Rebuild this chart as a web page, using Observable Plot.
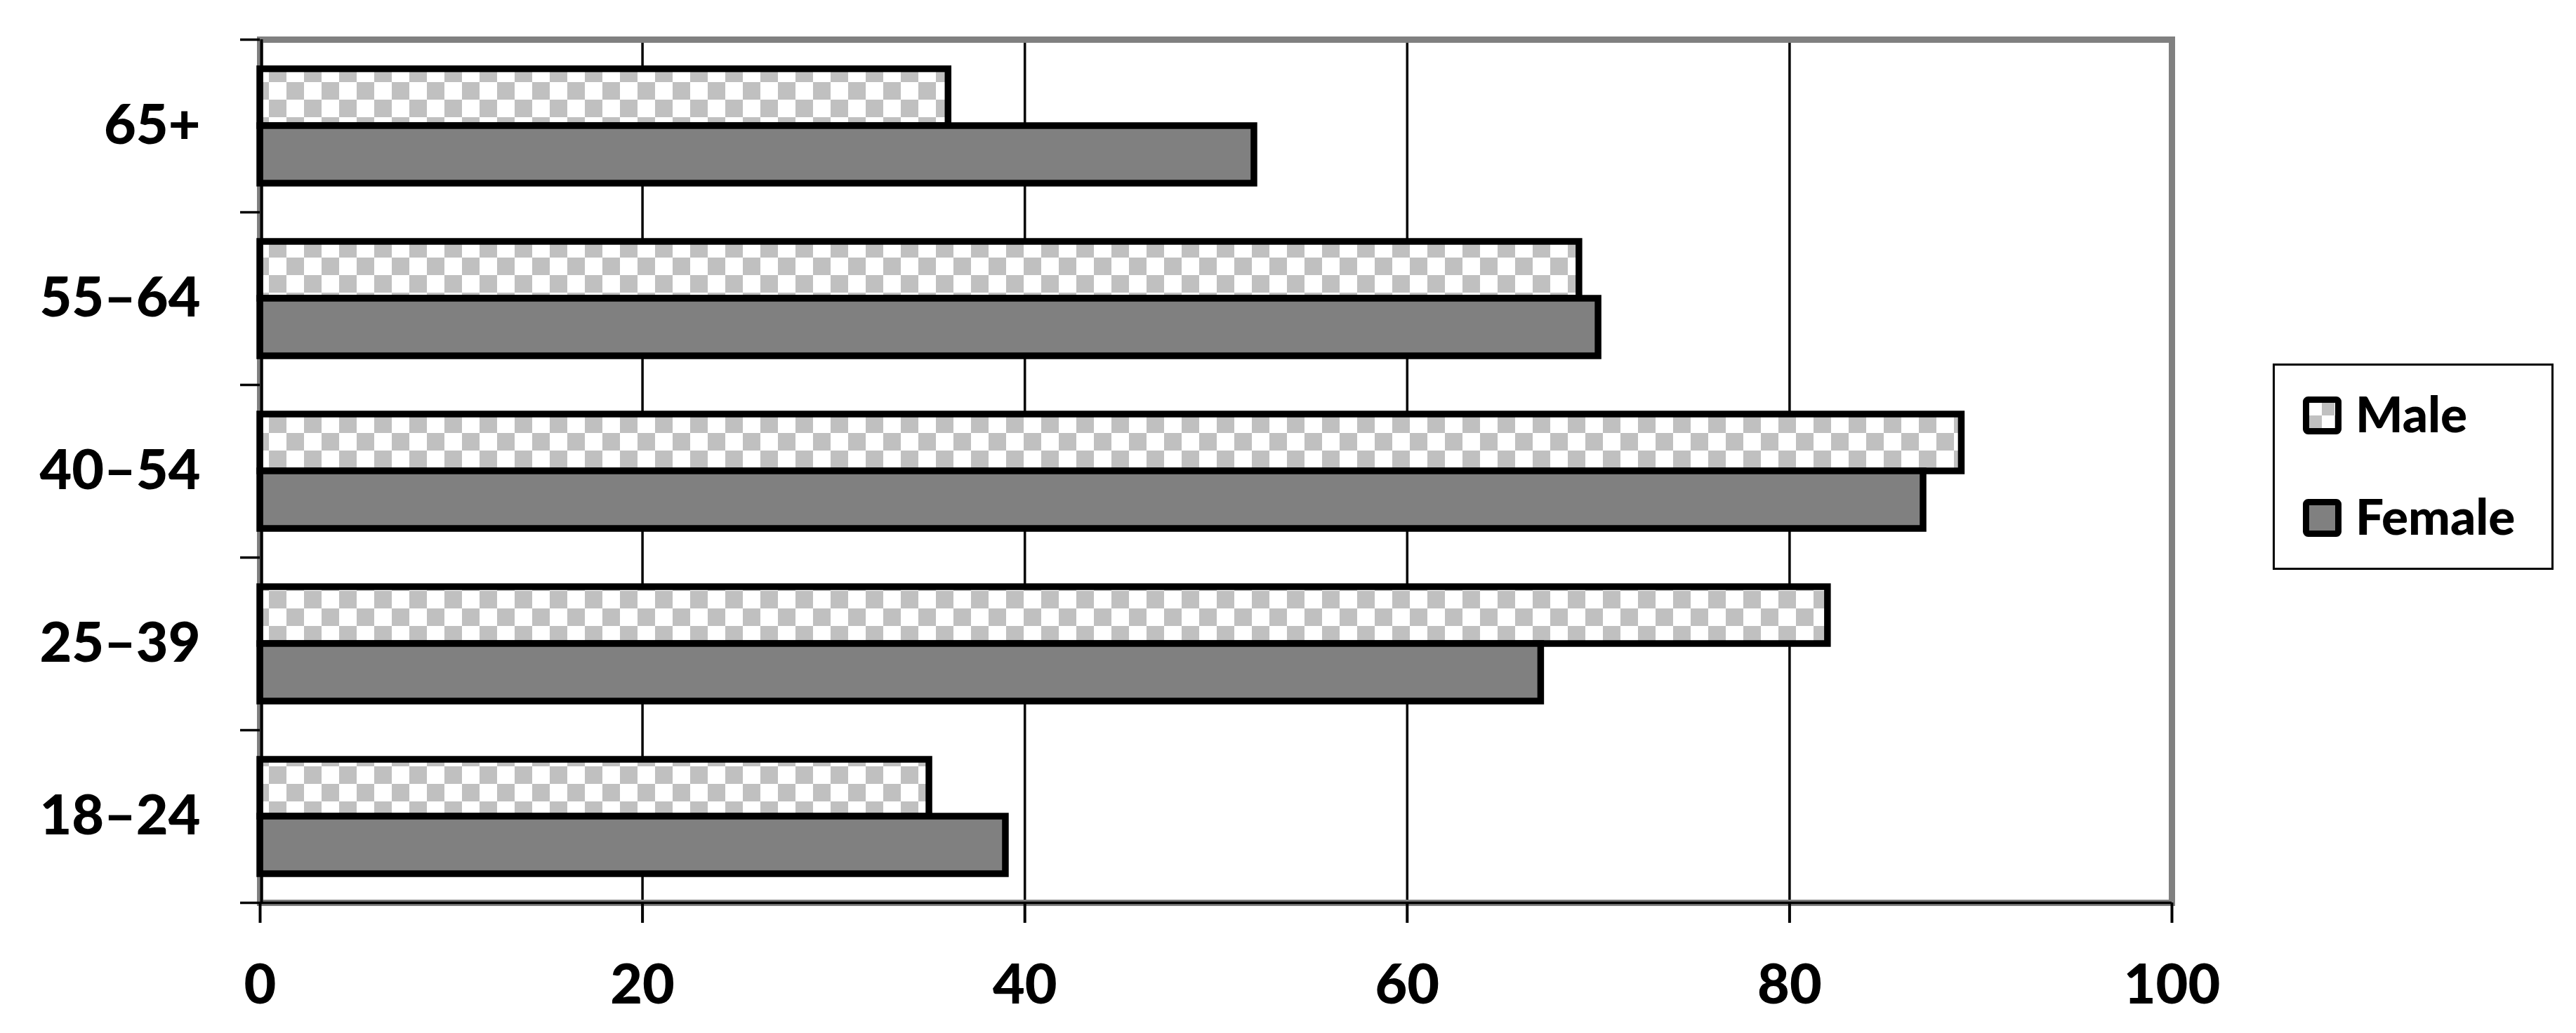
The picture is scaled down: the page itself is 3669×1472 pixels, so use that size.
<!DOCTYPE html>
<html><head><meta charset="utf-8">
<script src="https://cdn.jsdelivr.net/npm/d3@7"></script>
<script src="https://cdn.jsdelivr.net/npm/@observablehq/plot@0.6"></script>
<style>
html,body{margin:0;padding:0;background:#fff;}
#chart{position:relative;width:3669px;height:1472px;}
</style>
</head><body><div id="chart"></div>
<script>
// ---- data ----
const ages = ["65+", "55–64", "40–54", "25–39", "18–24"];
const maleValues = [36, 69, 89, 82, 35];
const femaleValues = [52, 70, 87, 67, 39];
const series = ["Male", "Female"];
const xTicks = [0, 20, 40, 60, 80, 100];

const rows = ages.flatMap((age, i) => [
  {age, sex: "Male", value: maleValues[i]},
  {age, sex: "Female", value: femaleValues[i]}
]);

// ---- layout ----
const W = 3669, H = 1472, mL = 370, mR = 576, mT = 56, mB = 186;
const band = (H - mT - mB) / ages.length;
const pxPerUnit = (W - mL - mR) / 100;
const tickLen = 28;
const FW = 900;
const fills = {Male: "url(#checker)", Female: "#808080"};
const insets = {
  Male: {insetTop: 42, insetBottom: band - 123},
  Female: {insetTop: 123, insetBottom: band - 205}
};

const svg = Plot.plot({
  width: W, height: H,
  marginLeft: mL, marginRight: mR, marginTop: mT, marginBottom: mB,
  style: {fontFamily: "Lato, sans-serif", fontWeight: String(FW), color: "black", background: "white"},
  x: {domain: [0, 100], ticks: xTicks},
  y: {domain: ages, padding: 0},
  marks: [
    Plot.ruleX(xTicks, {x: d => d, stroke: "black", strokeWidth: 3.5}),
    Plot.frame({stroke: "#808080", strokeWidth: 9}),
    ...series.map(s => Plot.barX(rows.filter(d => d.sex === s), {
      x: "value", y: "age", fill: fills[s], stroke: "black", strokeWidth: 9.5, ...insets[s]
    })),
    Plot.ruleX([0], {x: d => d, stroke: "black", strokeWidth: 4, dx: 2}),
    Plot.ruleY(ages, {y: d => d, dy: -band / 2, x1: -tickLen / pxPerUnit, x2: 0, stroke: "black", strokeWidth: 3.5}),
    Plot.ruleY([ages[ages.length - 1]], {y: d => d, dy: band / 2, x1: -tickLen / pxPerUnit, x2: 100, stroke: "black", strokeWidth: 3.5}),
    Plot.axisX({ticks: xTicks, tickSize: 29, tickPadding: 58, fontSize: 79, fontWeight: FW, strokeWidth: 4, label: null, tickFormat: d => String(d)}),
    Plot.axisY({tickSize: 0, tickPadding: 85, fontSize: 79, fontWeight: FW, label: null})
  ]
});

const root = d3.select(svg);
const defs = root.insert("defs", ":first-child");
const pat = defs.append("pattern").attr("id", "checker").attr("patternUnits", "userSpaceOnUse")
  .attr("x", 358).attr("y", 42).attr("width", 50).attr("height", 50);
pat.append("rect").attr("width", 50).attr("height", 50).attr("fill", "#ffffff");
pat.append("rect").attr("x", 25).attr("y", 0).attr("width", 25).attr("height", 25).attr("fill", "#c0c0c0");
pat.append("rect").attr("x", 0).attr("y", 25).attr("width", 25).attr("height", 25).attr("fill", "#c0c0c0");

const pl = defs.append("pattern").attr("id", "checkerLegend").attr("patternUnits", "userSpaceOnUse")
  .attr("x", 3289).attr("y", 574).attr("width", 36).attr("height", 36);
pl.append("rect").attr("width", 36).attr("height", 36).attr("fill", "#ffffff");
pl.append("rect").attr("x", 18).attr("y", 0).attr("width", 18).attr("height", 18).attr("fill", "#c0c0c0");
pl.append("rect").attr("x", 0).attr("y", 18).attr("width", 18).attr("height", 18).attr("fill", "#c0c0c0");

// ---- legend ----
const lg = root.append("g").attr("class", "legend").attr("text-anchor", "start");
lg.append("rect").attr("x", 3238.5).attr("y", 519.5).attr("width", 397).attr("height", 291)
  .attr("fill", "white").attr("stroke", "black").attr("stroke-width", 3);
const legendFill = {Male: "url(#checkerLegend)", Female: "#808080"};
series.forEach((s, i) => {
  const top = 565 + i * 146;
  lg.append("rect").attr("x", 3284.5).attr("y", top + 4.5).attr("width", 46).attr("height", 45)
    .attr("rx", 3).attr("fill", legendFill[s]).attr("stroke", "black").attr("stroke-width", 9);
  lg.append("text").attr("x", 3355).attr("y", top + 51).attr("text-anchor", "start")
    .attr("font-family", "Lato, sans-serif").attr("font-weight", FW).attr("font-size", 71)
    .attr("fill", "black").text(s);
});

document.getElementById("chart").appendChild(svg);
</script>
</body></html>
